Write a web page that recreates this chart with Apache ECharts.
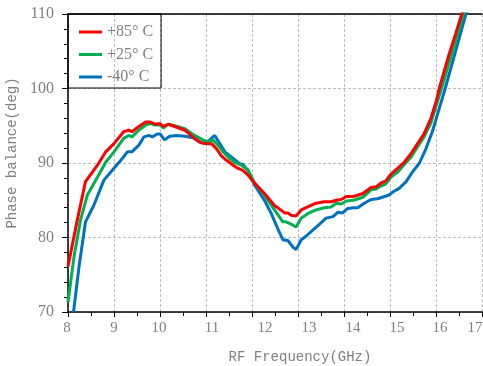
<!DOCTYPE html>
<html>
<head>
<meta charset="utf-8">
<script src="https://cdn.jsdelivr.net/npm/echarts@6/dist/echarts.min.js"></script>
<style>
  html, body { margin: 0; padding: 0; background: #fff; }
  #chart { width: 483px; height: 366px; }
</style>
</head>
<body>
<div id="chart"></div>
<script>
// Phase balance vs RF frequency at three temperatures
const seriesNames = ['+85° C', '+25° C', '-40° C'];

const freqHot = [8.0, 8.2, 8.38, 8.64, 8.82, 9.0, 9.21, 9.32, 9.39, 9.54, 9.69, 9.79, 9.9, 10.0, 10.07, 10.18, 10.32, 10.54, 10.75, 10.9, 11.0, 11.12, 11.23, 11.33, 11.44, 11.59, 11.69, 11.8, 11.91, 12.04, 12.27, 12.49, 12.71, 12.78, 12.85, 12.96, 13.07, 13.21, 13.39, 13.57, 13.72, 13.83, 13.94, 14.05, 14.19, 14.26, 14.41, 14.59, 14.7, 14.8, 14.91, 15.02, 15.17, 15.31, 15.46, 15.6, 15.74, 15.89, 16.01, 16.07, 16.29, 16.43, 16.56, 16.6];
const phaseHot = [76.1, 82.3, 87.5, 89.7, 91.5, 92.6, 94.2, 94.4, 94.2, 94.9, 95.5, 95.5, 95.2, 95.3, 94.9, 95.2, 94.9, 94.4, 93.3, 92.7, 92.6, 92.6, 91.9, 91.0, 90.4, 89.7, 89.3, 89.0, 88.4, 87.4, 85.9, 84.3, 83.3, 83.3, 83.0, 82.9, 83.7, 84.1, 84.6, 84.8, 84.8, 85.0, 85.1, 85.5, 85.5, 85.6, 85.9, 86.7, 86.8, 87.3, 87.6, 88.5, 89.3, 90.1, 91.3, 92.6, 93.9, 96.0, 98.4, 100.0, 104.7, 107.4, 110.0, 110.8];

const freqRoom = [8.0, 8.13, 8.27, 8.42, 8.64, 8.82, 9.0, 9.21, 9.32, 9.39, 9.54, 9.69, 9.79, 9.9, 10.0, 10.07, 10.18, 10.32, 10.54, 10.75, 10.93, 11.04, 11.15, 11.26, 11.37, 11.48, 11.62, 11.77, 11.91, 12.06, 12.27, 12.49, 12.67, 12.74, 12.85, 12.96, 13.07, 13.21, 13.39, 13.57, 13.72, 13.83, 13.94, 14.05, 14.19, 14.26, 14.41, 14.59, 14.7, 14.8, 14.91, 15.02, 15.17, 15.31, 15.46, 15.6, 15.74, 15.89, 16.03, 16.12, 16.37, 16.6, 16.65];
const phaseRoom = [71.3, 77.4, 82.3, 85.7, 88.1, 90.1, 91.5, 93.3, 93.7, 93.5, 94.4, 95.1, 95.3, 95.1, 95.1, 94.7, 95.2, 95.0, 94.6, 93.7, 93.1, 92.8, 93.1, 92.4, 91.5, 90.8, 90.1, 89.7, 89.1, 87.3, 85.7, 83.7, 82.1, 82.1, 81.8, 81.4, 82.6, 83.2, 83.7, 84.0, 84.1, 84.6, 84.5, 84.9, 85.0, 85.1, 85.4, 86.4, 86.5, 86.9, 87.2, 88.1, 88.8, 89.8, 90.8, 92.2, 93.5, 95.4, 98.2, 100.0, 105.2, 110.0, 110.8];

const freqCold = [8.12, 8.24, 8.38, 8.56, 8.78, 9.0, 9.18, 9.29, 9.39, 9.54, 9.65, 9.76, 9.83, 9.94, 10.0, 10.1, 10.21, 10.36, 10.54, 10.72, 10.86, 10.97, 11.08, 11.19, 11.3, 11.41, 11.55, 11.73, 11.8, 11.91, 12.06, 12.27, 12.42, 12.56, 12.67, 12.78, 12.89, 12.96, 13.07, 13.18, 13.32, 13.47, 13.61, 13.76, 13.87, 13.97, 14.08, 14.21, 14.3, 14.44, 14.59, 14.73, 14.88, 14.98, 15.06, 15.2, 15.35, 15.49, 15.64, 15.78, 15.92, 16.05, 16.2, 16.39, 16.65, 16.7];
const phaseCold = [70.0, 76.1, 82.1, 84.3, 87.7, 89.3, 90.6, 91.5, 91.5, 92.4, 93.5, 93.7, 93.5, 93.9, 93.9, 93.1, 93.6, 93.7, 93.6, 93.4, 92.8, 92.6, 93.1, 93.7, 92.6, 91.5, 90.8, 89.9, 89.8, 89.0, 87.0, 85.0, 83.2, 81.2, 79.7, 79.6, 78.7, 78.4, 79.7, 80.2, 81.0, 81.8, 82.6, 82.8, 83.4, 83.3, 83.9, 84.0, 84.0, 84.6, 85.1, 85.2, 85.5, 85.7, 86.1, 86.6, 87.5, 88.8, 90.0, 91.9, 94.2, 96.9, 100.0, 104.2, 110.0, 110.8];

const xTicks = [8, 9, 10, 11, 12, 13, 14, 15, 16, 17];
const yTicks = [70, 80, 90, 100, 110];

// horizontal nudge (px) applied to each frequency tick label
const labelShift = [-1, 0, -1, 6, 13, 11, 9, 7, 4, -7];

const colors = ['#ff0000', '#00b050', '#0070c0'];
const textGray = '#7f7f7f';
const serif = '"Liberation Serif", "DejaVu Serif", serif';
const mono = '"Liberation Mono", "DejaVu Sans Mono", monospace';

const pairs = (xs, ys) => xs.map((x, i) => [x, ys[i]]);

const rich = {};
labelShift.forEach((d, i) => {
  rich['s' + i] = {
    fontFamily: serif, fontSize: 15, color: textGray,
    padding: d >= 0 ? [0, 0, 0, 2 * d] : [0, -2 * d, 0, 0]
  };
});

const chart = echarts.init(document.getElementById('chart'), null, { renderer: 'canvas' });

const splitStyle = { show: true, lineStyle: { color: '#bdbdbd', type: [3, 2], width: 1 } };

chart.setOption({
  animation: false,
  backgroundColor: '#fff',
  color: colors,
  grid: { left: 68, right: 1, top: 14, bottom: 54, containLabel: false, outerBoundsMode: 'none' },
  legend: {
    orient: 'vertical',
    left: 68, top: 14,
    padding: [10, 8, 3, 11],
    itemGap: 6.5,
    itemWidth: 23,
    itemHeight: 3,
    icon: 'rect',
    borderColor: '#000',
    borderWidth: 1,
    textStyle: { fontFamily: serif, fontSize: 16, color: textGray },
    data: seriesNames
  },
  xAxis: [{
    type: 'value',
    min: xTicks[0], max: xTicks[xTicks.length - 1], interval: 1,
    name: 'RF Frequency(GHz)',
    nameLocation: 'middle',
    nameGap: 38,
    nameTextStyle: { fontFamily: mono, fontSize: 14, color: textGray, padding: [0, 0, 0, 50] },
    axisLine: { show: true, onZero: false, lineStyle: { color: '#000', width: 1.5 } },
    axisTick: { show: true, inside: false, length: 5, lineStyle: { color: '#000' } },
    minorTick: { show: true, splitNumber: 2, length: 4, lineStyle: { color: '#000' } },
    axisLabel: {
      margin: 9,
      showMaxLabel: true,
      formatter: v => {
        const i = xTicks.indexOf(Math.round(v));
        return '{s' + i + '|' + v + '}';
      },
      rich: rich
    },
    splitLine: splitStyle
  }, {
    type: 'value',
    position: 'top',
    min: xTicks[0], max: xTicks[xTicks.length - 1],
    axisLine: { show: true, lineStyle: { color: '#000', width: 1.5 } },
    axisTick: { show: false },
    axisLabel: { show: false },
    splitLine: { show: false }
  }],
  yAxis: {
    type: 'value',
    min: yTicks[0], max: yTicks[yTicks.length - 1], interval: 10,
    name: 'Phase balance(deg)',
    nameLocation: 'middle',
    nameGap: 44,
    nameRotate: 90,
    nameTextStyle: { fontFamily: mono, fontSize: 14, color: textGray, padding: [0, 0, 0, 20] },
    axisLine: { show: true, onZero: false, lineStyle: { color: '#000', width: 1.5 } },
    axisTick: { show: true, inside: false, length: 6, lineStyle: { color: '#000' } },
    minorTick: { show: true, splitNumber: 5, length: 4, lineStyle: { color: '#000' } },
    axisLabel: { margin: 14, fontFamily: serif, fontSize: 16, color: textGray },
    splitLine: splitStyle
  },
  series: [
    { name: seriesNames[0], data: pairs(freqHot, phaseHot) },
    { name: seriesNames[1], data: pairs(freqRoom, phaseRoom) },
    { name: seriesNames[2], data: pairs(freqCold, phaseCold) }
  ].map((s, i) => ({
    type: 'line',
    name: s.name,
    data: s.data,
    showSymbol: false,
    symbol: 'none',
    smooth: false,
    clip: true,
    z: 10 - i,
    lineStyle: { color: colors[i], width: 3 },
    itemStyle: { color: colors[i] }
  }))
});
</script>
</body>
</html>
